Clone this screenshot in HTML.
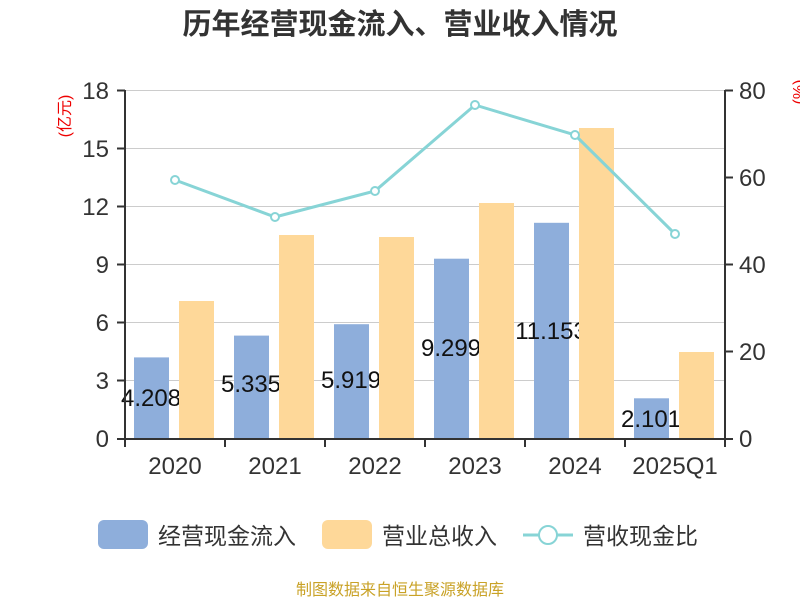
<!DOCTYPE html>
<html><head><meta charset="utf-8"><style>body{margin:0;background:#fff}svg{display:block}</style></head>
<body>
<svg width="800" height="600" xmlns="http://www.w3.org/2000/svg" font-family="Liberation Sans, Noto Sans CJK SC, sans-serif">
<text x="400" y="34" text-anchor="middle" font-size="29" font-weight="bold" fill="#333">历年经营现金流入、营业收入情况</text>
<g stroke="#ccc" stroke-width="1">
<line x1="125" y1="90.5" x2="725" y2="90.5"/><line x1="125" y1="148.5" x2="725" y2="148.5"/>
<line x1="125" y1="206.5" x2="725" y2="206.5"/><line x1="125" y1="264.5" x2="725" y2="264.5"/>
<line x1="125" y1="322.5" x2="725" y2="322.5"/><line x1="125" y1="380.5" x2="725" y2="380.5"/>
</g>
<g fill="#8eaedb">
<rect x="134" y="357.4" width="35" height="81.6"/>
<rect x="234" y="335.6" width="35" height="103.4"/>
<rect x="334" y="324.2" width="35" height="114.8"/>
<rect x="434" y="258.7" width="35" height="180.3"/>
<rect x="534" y="222.8" width="35" height="216.2"/>
<rect x="634" y="398.3" width="35" height="40.7"/>
</g>
<g font-size="24" fill="#111" text-anchor="middle">
<text x="151" y="406">4.208</text><text x="251" y="392">5.335</text><text x="351" y="388">5.919</text>
<text x="451" y="356">9.299</text><text x="551" y="339">11.153</text><text x="651" y="427">2.101</text>
</g>
<g fill="#fed899">
<rect x="179" y="301" width="35" height="138"/>
<rect x="279" y="235" width="35" height="204"/>
<rect x="379" y="237" width="35" height="202"/>
<rect x="479" y="203" width="35" height="236"/>
<rect x="579" y="128" width="35" height="311"/>
<rect x="679" y="352" width="35" height="87"/>
</g>
<polyline points="175,180 275,217 375,191 475,105 575,135 675,234" fill="none" stroke="#87d4d6" stroke-width="3"/>
<g fill="#fff" stroke="#87d4d6" stroke-width="2">
<circle cx="175" cy="180" r="4"/><circle cx="275" cy="217" r="4"/><circle cx="375" cy="191" r="4"/>
<circle cx="475" cy="105" r="4"/><circle cx="575" cy="135" r="4"/><circle cx="675" cy="234" r="4"/>
</g>
<g stroke="#333" stroke-width="2" fill="none">
<line x1="125" y1="90" x2="125" y2="440"/><line x1="725" y1="90" x2="725" y2="440"/>
<line x1="124" y1="439" x2="726" y2="439"/>
<path d="M117 90.5H125M117 148.5H125M117 206.5H125M117 264.5H125M117 322.5H125M117 380.5H125M117 439H125"/>
<path d="M725 90.5H733M725 177.5H733M725 264.5H733M725 351.5H733M725 439H733"/>
<path d="M125 439V447M225 439V447M325 439V447M425 439V447M525 439V447M625 439V447M725 439V447"/>
</g>
<g font-size="24" fill="#333" text-anchor="end">
<text x="109" y="99">18</text><text x="109" y="157">15</text><text x="109" y="215">12</text>
<text x="109" y="273">9</text><text x="109" y="331">6</text><text x="109" y="389">3</text><text x="109" y="447">0</text>
</g>
<g font-size="24" fill="#333">
<text x="739" y="99">80</text><text x="739" y="186">60</text><text x="739" y="273">40</text>
<text x="739" y="360">20</text><text x="739" y="447">0</text>
</g>
<g font-size="24" fill="#333" text-anchor="middle">
<text x="175" y="474">2020</text><text x="275" y="474">2021</text><text x="375" y="474">2022</text>
<text x="475" y="474">2023</text><text x="575" y="474">2024</text><text x="675" y="474">2025Q1</text>
</g>
<text transform="translate(70,116) rotate(-90)" text-anchor="middle" font-size="16" fill="#e00">(亿元)</text>
<text transform="translate(804,92) rotate(-90)" text-anchor="middle" font-size="16" fill="#e00">(%)</text>
<rect x="98" y="520" width="50" height="29" rx="6" fill="#8eaedb"/>
<text x="158" y="544" font-size="23" fill="#333">经营现金流入</text>
<rect x="322" y="520" width="50" height="29" rx="6" fill="#fed899"/>
<text x="382" y="544" font-size="23" fill="#333">营业总收入</text>
<line x1="523" y1="535" x2="573" y2="535" stroke="#87d4d6" stroke-width="3"/>
<circle cx="548" cy="535" r="9" fill="#fff" stroke="#87d4d6" stroke-width="2"/>
<text x="583" y="544" font-size="23" fill="#333">营收现金比</text>
<text x="400" y="595" text-anchor="middle" font-size="16" fill="#c9a227">制图数据来自恒生聚源数据库</text>
</svg>
</body></html>
